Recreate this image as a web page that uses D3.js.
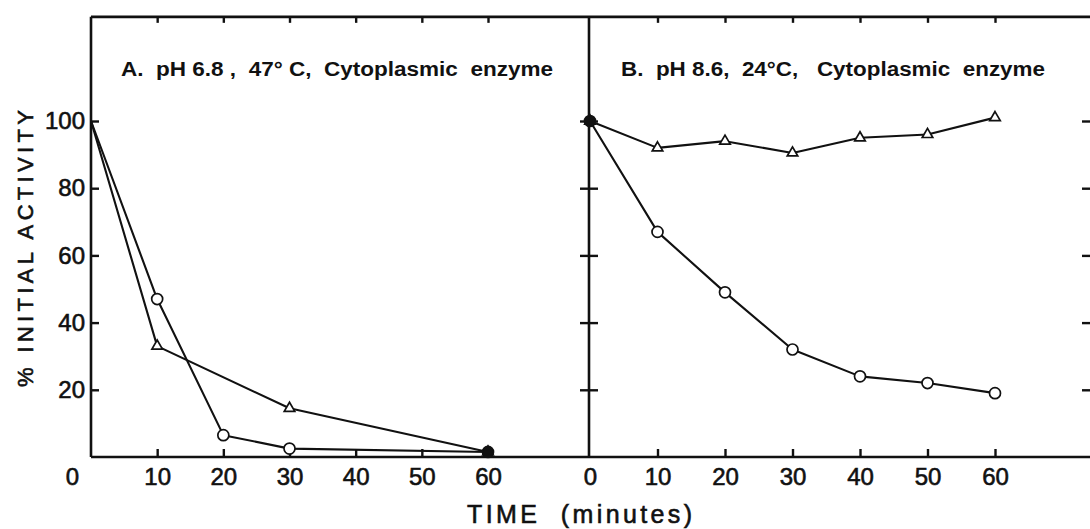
<!DOCTYPE html>
<html>
<head>
<meta charset="utf-8">
<script src="https://cdn.jsdelivr.net/npm/d3@7"></script>
<style>
  html, body { margin: 0; padding: 0; background: #fff; }
  svg { display: block; }
  text { font-family: "Liberation Sans", "DejaVu Sans", sans-serif; fill: #111; }
  .heavy { stroke: #111; stroke-width: 0.6px; }
</style>
</head>
<body>
<svg id="chart" width="1090" height="529"></svg>
<script>
// Panel A: pH 6.8, 47 °C
const timeA_circle = [0, 10, 20, 30, 60];
const actA_circle  = [100, 47, 6.5, 2.5, 1.5];
const timeA_tri    = [0, 10, 30, 60];
const actA_tri     = [100, 33, 14.5, 1.5];

// Panel B: pH 8.6, 24 °C
const timeB = [0, 10, 20, 30, 40, 50, 60];
const actB_circle = [100, 67, 49, 32, 24, 22, 19];
const actB_tri    = [100, 92, 94, 90.5, 95, 96, 101];

const xTicks = [0, 10, 20, 30, 40, 50, 60];
const yTicks = [20, 40, 60, 80, 100];

const titleA = "A.  pH 6.8 ,  47\u00b0 C,  Cytoplasmic  enzyme";
const titleB = "B.  pH 8.6,  24\u00b0C,   Cytoplasmic  enzyme";
const yTitle = "% INITIAL ACTIVITY";
const xTitle = "TIME  (minutes)";

const svg = d3.select("#chart");
const ink = "#111";

const xA = d3.scaleLinear().domain([0, 60]).range([91, 488]);
const xB = d3.scaleLinear().domain([0, 60]).range([590, 995]);
const y  = d3.scaleLinear().domain([0, 100]).range([457, 121]);
const yTop = y(131);
const xLeft = xA(0), xRight = 1090, xDiv = 589;

// frame
const frame = svg.append("g").attr("stroke", ink).attr("stroke-width", 2.6).attr("fill", "none");
frame.append("line").attr("x1", xLeft).attr("x2", xRight).attr("y1", yTop).attr("y2", yTop);
frame.append("line").attr("x1", xLeft).attr("x2", xRight).attr("y1", y(0)).attr("y2", y(0));
frame.append("line").attr("x1", xLeft).attr("x2", xLeft).attr("y1", yTop).attr("y2", y(0));
frame.append("line").attr("x1", xDiv).attr("x2", xDiv).attr("y1", yTop).attr("y2", y(0));

function styleAxis(g, showLabels) {
  g.select(".domain").remove();
  g.selectAll(".tick line").attr("stroke", ink).attr("stroke-width", 2.4);
  g.selectAll(".tick text")
    .attr("class", "heavy")
    .style("font-size", "24px")
    .attr("fill", ink)
    .style("display", showLabels ? null : "none");
}

// bottom axes with labels, ticks pointing upward
[xA, xB].forEach((sc, i) => {
  const g = svg.append("g").attr("transform", `translate(0,${y(0)})`)
    .call(d3.axisBottom(sc).tickValues(xTicks).tickSize(-8).tickSizeOuter(0).tickPadding(11).tickFormat(d3.format("d")))
    .call(g => styleAxis(g, true));
  if (i === 0) {
    g.selectAll(".tick").filter(d => d === 0).select("text").attr("dx", -19);
  }
  g.selectAll(".tick").filter(d => d === 0).select("line").remove();
});

// top axes, ticks pointing downward
[xA, xB].forEach(sc => {
  svg.append("g").attr("transform", `translate(0,${yTop})`)
    .call(d3.axisTop(sc).tickValues(xTicks.slice(1)).tickSize(-6).tickSizeOuter(0).tickFormat(""))
    .call(g => styleAxis(g, false));
});

// left axis with labels
svg.append("g").attr("transform", `translate(${xLeft},0)`)
  .call(d3.axisLeft(y).tickValues(yTicks).tickSize(-8).tickSizeOuter(0).tickPadding(6))
  .call(g => styleAxis(g, true));

// divider ticks crossing both sides
svg.append("g").attr("transform", `translate(${xDiv},0)`)
  .call(d3.axisLeft(y).tickValues(yTicks).tickSize(9).tickSizeOuter(0).tickFormat(""))
  .call(g => styleAxis(g, false));
svg.append("g").attr("transform", `translate(${xDiv},0)`)
  .call(d3.axisRight(y).tickValues(yTicks).tickSize(9).tickSizeOuter(0).tickFormat(""))
  .call(g => styleAxis(g, false));

// right edge ticks pointing inward
svg.append("g").attr("transform", `translate(${xRight},0)`)
  .call(d3.axisLeft(y).tickValues(yTicks).tickSize(8).tickSizeOuter(0).tickFormat(""))
  .call(g => styleAxis(g, false));

// data lines and markers
function series(xs, ts, vs, shape, solidAt) {
  const pts = ts.map((t, i) => [xs(t), y(vs[i])]);
  svg.append("path")
    .attr("d", d3.line()(pts))
    .attr("fill", "none").attr("stroke", ink).attr("stroke-width", 2.1)
    .attr("stroke-linejoin", "round");
  const sym = d3.symbol().type(shape === "tri" ? d3.symbolTriangle : d3.symbolCircle)
    .size(shape === "tri" ? 48 : 95);
  svg.append("g").selectAll("path").data(pts).join("path")
    .attr("transform", d => `translate(${d[0]},${d[1]})`)
    .attr("d", sym)
    .attr("fill", (d, i) => solidAt.includes(i) ? ink : "#fff")
    .attr("stroke", ink).attr("stroke-width", 1.7)
    .style("display", (d, i) => (i === 0 && !solidAt.includes(0)) ? "none" : null);
}

series(xA, timeA_tri, actA_tri, "tri", [3]);
series(xA, timeA_circle, actA_circle, "circle", [4]);
series(xB, timeB, actB_tri, "tri", [0]);
series(xB, timeB, actB_circle, "circle", [0]);

// panel titles
svg.append("text").attr("x", 121).attr("y", 76)
  .style("font-size", "20px").style("font-weight", "bold").style("white-space", "pre")
  .attr("textLength", 432).attr("lengthAdjust", "spacingAndGlyphs")
  .text(titleA);
svg.append("text").attr("x", 621).attr("y", 76)
  .style("font-size", "20px").style("font-weight", "bold").style("white-space", "pre")
  .attr("textLength", 424).attr("lengthAdjust", "spacingAndGlyphs")
  .text(titleB);

// axis titles
svg.append("text")
  .attr("class", "heavy")
  .attr("transform", `translate(33,${(110 + 387) / 2}) rotate(-90)`)
  .attr("text-anchor", "middle")
  .style("font-size", "22px")
  .attr("textLength", 277).attr("lengthAdjust", "spacing")
  .text(yTitle);
svg.append("text").attr("x", 467).attr("y", 523)
  .attr("class", "heavy")
  .style("font-size", "25px").style("white-space", "pre")
  .attr("textLength", 225).attr("lengthAdjust", "spacing")
  .text(xTitle);
</script>
</body>
</html>
